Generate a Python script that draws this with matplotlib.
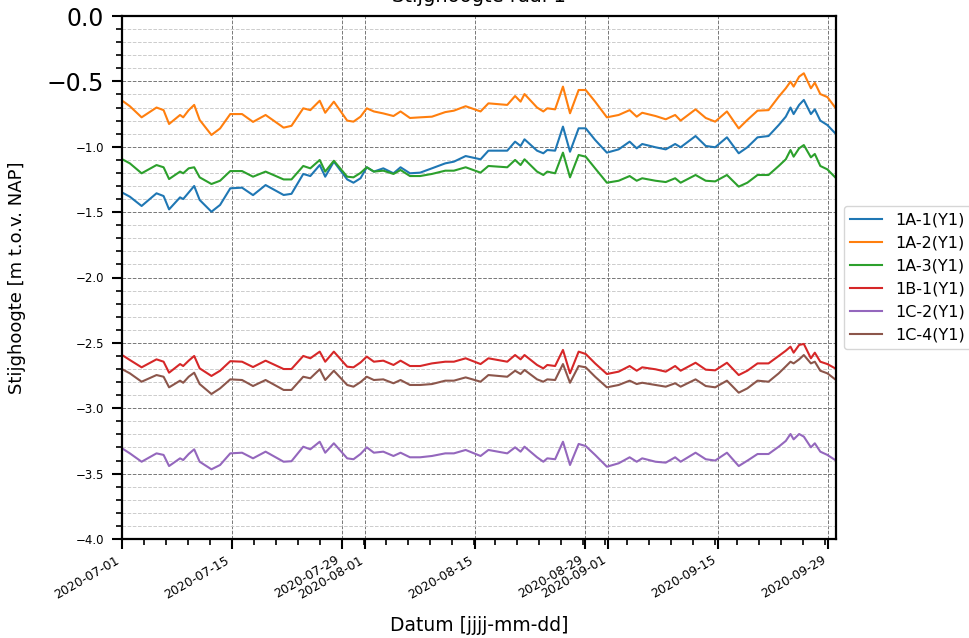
import matplotlib
matplotlib.use("Agg")
import matplotlib.pyplot as plt
import matplotlib.dates as mdates
from matplotlib.ticker import AutoMinorLocator, MultipleLocator
import numpy as np
import pandas as pd

# sample moments, days after 2020-07-01 00:00
days = [0.2, 1.0, 2.5, 4.4, 5.3, 6.0, 7.4, 7.8, 8.5, 9.2, 9.9, 11.4, 12.5, 13.8,
        15.3, 16.7, 18.3, 20.6, 21.6, 23.1, 24.0, 25.2, 25.9, 27.0, 28.7, 29.5,
        30.4, 31.2, 32.1, 33.3, 34.6, 35.5, 36.7, 38.0, 39.5, 41.2, 42.3, 43.8,
        45.7,
        46.7, 49.1, 50.1, 50.8, 51.3, 52.9, 53.7, 54.2, 55.2, 56.2, 57.1, 58.2,
        59.1, 60.3, 61.8, 63.3, 64.7, 65.6, 66.3, 68.0, 69.3, 70.5, 71.2, 73.1,
        74.4, 75.6, 77.1, 78.6, 79.7, 81.0, 82.4, 83.7, 84.6, 85.2, 85.6, 86.3,
        86.9, 87.8, 88.3, 89.0, 89.9, 90.9]

p_1a1 = [-1.356, -1.382, -1.453, -1.356, -1.377, -1.479, -1.387, -1.40, -1.35, -1.30,
         -1.407, -1.497, -1.445, -1.318, -1.313, -1.37, -1.293, -1.369, -1.36, -1.208,
         -1.224, -1.14, -1.229, -1.114, -1.25, -1.275, -1.241, -1.157, -1.19, -1.165,
         -1.203, -1.157, -1.203, -1.198, -1.165, -1.127, -1.114, -1.071, -1.096,
         -1.03, -1.03, -0.961, -0.994, -0.943, -1.03, -1.05, -1.025, -1.03, -0.846,
         -1.038, -0.859, -0.859, -0.948, -1.045, -1.02, -0.961, -1.012, -0.979, -1.004,
         -1.02, -0.979, -1.004, -0.918, -0.994, -1.004, -0.928, -1.05, -1.004, -0.928,
         -0.918, -0.834, -0.77, -0.70, -0.75, -0.68, -0.642, -0.75, -0.714, -0.80,
         -0.834, -0.897]

p_1a2 = [-0.655, -0.69, -0.775, -0.70, -0.72, -0.826, -0.757, -0.775, -0.72, -0.68,
         -0.795, -0.91, -0.86, -0.75, -0.75, -0.81, -0.757, -0.854, -0.84, -0.706,
         -0.72, -0.648, -0.74, -0.655, -0.80, -0.808, -0.77, -0.706, -0.73, -0.745,
         -0.765, -0.73, -0.78, -0.775, -0.77, -0.735, -0.724, -0.69, -0.73,
         -0.668, -0.68, -0.612, -0.655, -0.597, -0.70, -0.73, -0.706, -0.714, -0.54,
         -0.744, -0.566, -0.566, -0.655, -0.775, -0.757, -0.72, -0.77, -0.74, -0.765,
         -0.79, -0.757, -0.80, -0.714, -0.78, -0.808, -0.73, -0.86, -0.795, -0.724,
         -0.72, -0.617, -0.553, -0.502, -0.54, -0.464, -0.438, -0.553, -0.51, -0.597,
         -0.62, -0.70]

p_1a3 = [-1.101, -1.127, -1.203, -1.14, -1.157, -1.247, -1.19, -1.203, -1.165, -1.157,
         -1.234, -1.285, -1.26, -1.186, -1.186, -1.229, -1.19, -1.25, -1.25, -1.147,
         -1.165, -1.101, -1.19, -1.107, -1.229, -1.234, -1.20, -1.157, -1.19, -1.183,
         -1.208, -1.178, -1.224, -1.224, -1.208, -1.183, -1.183, -1.157, -1.198,
         -1.147, -1.157, -1.101, -1.14, -1.096, -1.19, -1.216, -1.19, -1.203, -1.045,
         -1.234, -1.063, -1.076, -1.165, -1.275, -1.26, -1.224, -1.26, -1.241, -1.26,
         -1.27, -1.241, -1.275, -1.216, -1.26, -1.265, -1.216, -1.305, -1.275, -1.216,
         -1.216, -1.147, -1.096, -1.025, -1.076, -1.012, -0.987, -1.081, -1.055, -1.147,
         -1.173, -1.234]

p_1b1 = [-2.60, -2.631, -2.687, -2.626, -2.644, -2.728, -2.662, -2.677, -2.636, -2.60,
         -2.695, -2.753, -2.713, -2.64, -2.644, -2.685, -2.636, -2.70, -2.70, -2.60,
         -2.618, -2.567, -2.644, -2.567, -2.682, -2.687, -2.65, -2.605, -2.644, -2.636,
         -2.669, -2.636, -2.677, -2.677, -2.657, -2.644, -2.644, -2.618, -2.662,
         -2.618, -2.644, -2.593, -2.626, -2.593, -2.669, -2.695, -2.669, -2.677, -2.554,
         -2.733, -2.567, -2.585, -2.657, -2.738, -2.72, -2.677, -2.713, -2.687, -2.702,
         -2.72, -2.677, -2.713, -2.652, -2.705, -2.71, -2.652, -2.746, -2.713, -2.657,
         -2.657, -2.60, -2.56, -2.529, -2.575, -2.516, -2.508, -2.618, -2.575, -2.644,
         -2.662, -2.695]

p_1c2 = [-3.314, -3.345, -3.409, -3.345, -3.357, -3.442, -3.383, -3.396, -3.35, -3.314,
         -3.409, -3.467, -3.434, -3.345, -3.34, -3.383, -3.332, -3.409, -3.405, -3.294,
         -3.314, -3.256, -3.34, -3.268, -3.383, -3.39, -3.35, -3.299, -3.34, -3.332,
         -3.365, -3.34, -3.375, -3.375, -3.365, -3.345, -3.345, -3.319, -3.365,
         -3.319, -3.345, -3.299, -3.332, -3.294, -3.375, -3.409, -3.383, -3.39, -3.256,
         -3.434, -3.273, -3.289, -3.357, -3.447, -3.421, -3.375, -3.409, -3.383, -3.409,
         -3.416, -3.375, -3.409, -3.34, -3.39, -3.40, -3.34, -3.442, -3.401, -3.35,
         -3.35, -3.294, -3.25, -3.197, -3.238, -3.197, -3.217, -3.299, -3.268, -3.332,
         -3.357, -3.396]

p_1c4 = [-2.707, -2.733, -2.797, -2.746, -2.759, -2.84, -2.789, -2.805, -2.759, -2.728,
         -2.815, -2.891, -2.848, -2.779, -2.784, -2.83, -2.784, -2.86, -2.86, -2.759,
         -2.771, -2.702, -2.784, -2.713, -2.822, -2.835, -2.80, -2.759, -2.784, -2.779,
         -2.809, -2.784, -2.822, -2.822, -2.815, -2.789, -2.789, -2.764, -2.797,
         -2.746, -2.759, -2.713, -2.738, -2.707, -2.779, -2.797, -2.779, -2.784, -2.662,
         -2.805, -2.677, -2.687, -2.759, -2.84, -2.822, -2.789, -2.815, -2.805, -2.822,
         -2.835, -2.809, -2.835, -2.779, -2.83, -2.84, -2.789, -2.881, -2.848, -2.789,
         -2.797, -2.733, -2.68, -2.644, -2.657, -2.626, -2.593, -2.657, -2.644, -2.713,
         -2.733, -2.779]

series = [("1A-1(Y1)", p_1a1), ("1A-2(Y1)", p_1a2), ("1A-3(Y1)", p_1a3),
          ("1B-1(Y1)", p_1b1), ("1C-2(Y1)", p_1c2), ("1C-4(Y1)", p_1c4)]

yticks = [-4.0, -3.5, -3.0, -2.5, -2.0, -1.5, -1.0, -0.5, 0.0]

t0 = pd.Timestamp("2020-07-01")
dates = t0 + pd.to_timedelta(days, unit="D")

fig = plt.figure(figsize=(9.7, 6.38), dpi=100)
ax = fig.add_axes([122 / 970, 99 / 638, 714 / 970, 523 / 638])

for name, vals in series:
    ax.plot(dates, vals, lw=1.5, label=name)

ax.set_xlim(t0, pd.Timestamp("2020-09-30"))
ax.set_ylim(-4.0, 0.0)

ax.xaxis.set_major_locator(mdates.DayLocator(bymonthday=[1, 15, 29]))
ax.xaxis.set_major_formatter(mdates.DateFormatter("%Y-%m-%d"))
ax.xaxis.set_minor_locator(AutoMinorLocator(5))
ax.yaxis.set_minor_locator(MultipleLocator(0.1))

ax.set_yticks(yticks, labels=[f"{v:.1f}".replace("-", "\u2212") for v in yticks])
for lab in ax.get_yticklabels():
    lab.set_fontsize(8.5)
for lab in ax.get_yticklabels()[-2:]:
    lab.set_fontsize(17)

for lab in ax.get_xticklabels():
    lab.set_rotation(30)
    lab.set_ha("right")
    lab.set_fontsize(9)

ax.tick_params(which="major", length=7, width=1.5)
ax.tick_params(axis="y", which="major", pad=6)
ax.tick_params(which="minor", length=4, width=1.2)
for sp in ax.spines.values():
    sp.set_linewidth(1.6)

ax.grid(which="major", ls="--", color="#777777", lw=0.7)
ax.yaxis.grid(which="minor", ls="--", color="#cccccc", lw=0.7)

ax.set_title("Stijghoogte raai 1", fontsize=14, pad=10)
ax.set_xlabel("Datum [jjjj-mm-dd]", fontsize=13.5)
ax.set_ylabel("Stijghoogte [m t.o.v. NAP]", fontsize=13)
ax.xaxis.set_label_coords(0.5, -0.148)
ax.yaxis.set_label_coords(-0.135, 0.5)
ax.legend(loc="center left", bbox_to_anchor=(1.0, 0.5), fontsize=11.5)

fig.savefig("out.png", dpi=100)
